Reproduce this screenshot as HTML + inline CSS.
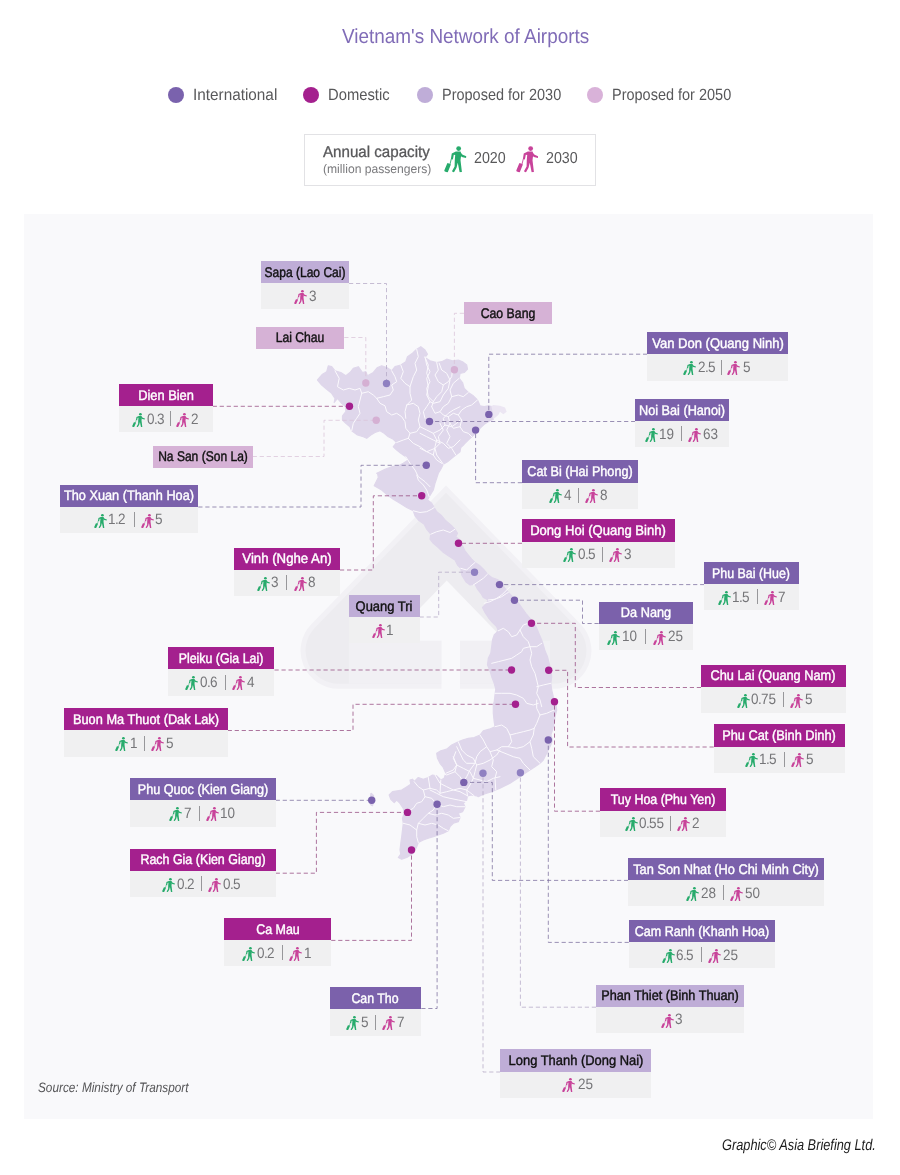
<!DOCTYPE html>
<html lang="en"><head><meta charset="utf-8"><title>Vietnam's Network of Airports</title>
<style>
html,body{margin:0;padding:0;background:#fff}
body{width:900px;height:1175px;position:relative;overflow:hidden;font-family:"Liberation Sans",sans-serif;color:#58585a;text-rendering:geometricPrecision}
.abs{position:absolute}
.t{position:absolute;white-space:nowrap;transform-origin:0 0;line-height:1}
#panel{position:absolute;left:24px;top:214px;width:849.3px;height:904.8px;background:#f9f9fb}
#ov{position:absolute;left:0;top:0}
.lb{position:absolute}
.lb .h{height:22.3px;line-height:22.3px;text-align:center;font-size:14.0px;white-space:nowrap;position:relative}
.lb .h span{position:absolute;left:50%;top:-.45px;display:block;transform-origin:0 50%;-webkit-text-stroke:.42px currentColor}
.lb .v{height:26.1px;background:#f0f0f1;position:relative;font-size:15.0px;color:#757578;white-space:nowrap;line-height:26.1px}
.lb .v .n{position:absolute;top:.4px;display:block;font-weight:normal;transform:scaleX(.9);transform-origin:0 50%}
.lb .v .n u{text-decoration:none;margin:0 -.7px}
.lb .v i{position:absolute;top:5.2px;width:1px;height:15px;background:#97979a}
.ic{display:block;fill:currentColor}
.lb .ic{position:absolute;top:6.7px}
.g{color:#27ab6c}.p{color:#c8439a}
</style></head><body>
<svg width="0" height="0" style="position:absolute"><symbol id="pax" viewBox="186 148 512 600">
<circle cx="518" cy="205" r="54"/>
<path d="M455 272 L562 272 L578 330 L560 470 L592 735 L540 742 L498 530 L470 640 L410 748 L366 718 L426 610 L430 470 L440 350 L408 348 L388 452 L342 440 L362 318 Z"/>
<path d="M560 296 L608 345 L694 382 L686 418 L590 398 L548 350 Z"/>
<path d="M352 440 L322 560" stroke-width="20" fill="none" stroke="currentColor" stroke-linecap="round"/>
<rect x="-44" y="-102" width="88" height="204" rx="20" transform="translate(266 640) rotate(22)"/>
</symbol></svg>
<div id="panel"></div>
<div class="t" id="title" style="left:341.8px;top:26.67px;font-size:20.39px;color:#806cb7;transform:scaleX(0.9285);">Vietnam's Network of Airports</div>
<div class="t" id="lg1" style="left:192.7px;top:87.24px;font-size:16.20px;color:#58585a;transform:scaleX(0.9460);">International</div>
<div class="t" id="lg2" style="left:327.7px;top:87.24px;font-size:16.20px;color:#58585a;transform:scaleX(0.9130);">Domestic</div>
<div class="t" id="lg3" style="left:441.6px;top:87.24px;font-size:16.20px;color:#58585a;transform:scaleX(0.8949);">Proposed for 2030</div>
<div class="t" id="lg4" style="left:612.4px;top:87.24px;font-size:16.20px;color:#58585a;transform:scaleX(0.8949);">Proposed for 2050</div>
<div class="t" id="cap1" style="left:323.2px;top:144.59px;font-size:15.78px;color:#58585a;transform:scaleX(0.9595);-webkit-text-stroke:.3px #58585a;">Annual capacity</div>
<div class="t" id="cap2" style="left:322.8px;top:162.88px;font-size:12.43px;color:#7a7a7d;transform:scaleX(0.9752);">(million passengers)</div>
<div class="t" id="y20" style="left:474.1px;top:151.38px;font-size:15.92px;color:#58585a;transform:scaleX(0.8957);">2020</div>
<div class="t" id="y30" style="left:545.8px;top:151.38px;font-size:15.92px;color:#58585a;transform:scaleX(0.8957);">2030</div>
<div class="t" id="src" style="left:38.4px;top:1080.83px;font-size:13.69px;color:#555557;transform:scaleX(0.8615);font-style:italic;">Source: Ministry of Transport</div>
<div class="t" id="cred" style="left:721.8px;top:1137.72px;font-size:15.50px;color:#1c1c1c;transform:scaleX(0.8242);font-style:italic;">Graphic© Asia Briefing Ltd.</div>
<div class="abs" style="left:168.3px;top:87.3px;width:16px;height:16px;border-radius:50%;background:#7a62ad"></div>
<div class="abs" style="left:303px;top:87.3px;width:16px;height:16px;border-radius:50%;background:#a4208e"></div>
<div class="abs" style="left:416.6px;top:87.3px;width:16px;height:16px;border-radius:50%;background:#bfadd8"></div>
<div class="abs" style="left:587.2px;top:87.3px;width:16px;height:16px;border-radius:50%;background:#d9b2d9"></div>
<div class="abs" style="left:303.5px;top:134.3px;width:292.5px;height:51.3px;border:1px solid #e2e2e5;box-sizing:border-box"></div>
<div class="abs g" style="left:444.2px;top:146.4px"><svg class="ic" width="22.6" height="26.5"><use href="#pax"/></svg></div>
<div class="abs p" style="left:515.8px;top:146.4px"><svg class="ic" width="22.6" height="26.5"><use href="#pax"/></svg></div>
<svg id="ov" width="900" height="1175" viewBox="0 0 900 1175">
<path d="M446.0 485.5 L311.3 624.2 A38.0 38.0 0 0 0 338.6 688.7 L553.4 688.7 A38.0 38.0 0 0 0 580.7 624.2 Z" fill="#f2f1f5"/>
<path d="M446.0 492.6779175252994 L314.9 627.7 A33.0 33.0 0 0 0 338.6 683.7 L553.4 683.7 A33.0 33.0 0 0 0 577.1 627.7 Z" fill="#edecf0"/>
<rect x="348.9" y="640.7" width="92.6" height="43.0" fill="#f1f0f4"/>
<rect x="460" y="640.7" width="90" height="43.0" fill="#f1f0f4"/>
<path d="M446.7 580.5 L388.3 640.7 L441.5 640.7 L441.5 689.2 L460 689.2 L460 640.7 L505.1 640.7 Z" fill="#f9f9fb"/>
<g id="vn"><path d="M317.5 380.0 L322.5 374.2 L326.7 371.7 L328.3 365.8 L331.7 366.7 L335.0 370.8 L340.8 372.5 L345.8 375.8 L350.0 372.5 L353.3 368.3 L358.3 366.7 L362.5 372.5 L365.8 371.7 L367.5 375.8 L373.3 372.5 L377.5 367.5 L381.7 365.8 L386.7 367.5 L391.7 370.8 L395.0 366.7 L400.8 365.0 L405.8 361.7 L407.5 356.7 L412.5 353.3 L416.7 349.2 L420.8 346.7 L425.0 350.0 L427.5 354.2 L425.0 357.5 L430.0 360.8 L436.7 362.5 L441.7 361.7 L446.7 359.2 L452.5 360.8 L458.3 360.0 L462.5 361.7 L466.7 365.0 L467.5 369.2 L464.2 372.5 L460.0 373.3 L459.2 378.3 L462.5 382.5 L464.2 388.3 L468.3 392.5 L473.3 395.8 L477.5 400.0 L480.0 405.8 L484.2 406.7 L488.3 405.8 L492.0 406.7 L493.3 412.0 L493.3 419.2 L488.3 421.7 L484.2 424.2 L480.0 428.3 L475.8 433.3 L471.7 436.7 L468.3 440.0 L464.2 444.2 L460.8 447.5 L460.0 451.7 L455.8 455.0 L451.7 458.3 L447.5 461.7 L443.3 464.2 L440.8 469.2 L438.3 473.3 L436.7 478.3 L435.0 483.3 L433.3 490.0 L429.2 496.7 L427.5 500.0 L431.7 503.3 L434.2 507.5 L436.7 511.7 L441.7 515.8 L445.8 520.8 L450.8 525.0 L455.0 529.2 L457.5 533.3 L455.8 536.7 L460.0 540.0 L462.5 545.8 L465.0 550.8 L468.3 555.0 L471.7 559.2 L475.0 562.5 L480.0 565.8 L484.2 570.0 L487.5 574.2 L491.7 577.5 L496.7 579.2 L501.7 581.7 L504.2 587.5 L508.3 592.5 L513.3 597.5 L517.5 601.7 L521.7 607.5 L525.8 613.3 L530.0 618.3 L534.2 623.3 L536.7 628.3 L539.2 634.2 L541.7 640.0 L543.3 645.0 L545.0 650.8 L547.5 656.7 L549.2 663.3 L550.8 670.0 L551.7 676.7 L550.8 683.3 L551.7 690.0 L553.3 696.7 L555.8 703.3 L556.7 710.0 L556.7 710.0 L555.0 716.7 L554.2 723.3 L552.5 730.0 L550.8 735.0 L552.5 740.0 L550.8 745.0 L548.3 750.0 L545.8 755.0 L543.3 760.0 L540.0 763.3 L535.0 766.7 L530.0 770.0 L525.0 773.3 L520.0 776.7 L515.0 780.0 L510.0 783.3 L505.0 785.8 L500.0 788.3 L495.8 790.0 L491.7 791.7 L486.7 793.3 L481.7 795.0 L478.3 796.7 L476.7 795.8 L471.7 795.0 L467.5 795.8 L466.7 800.0 L463.3 803.3 L465.0 806.7 L462.5 811.7 L458.3 813.3 L460.0 817.5 L458.3 821.7 L453.3 823.3 L450.0 826.7 L448.3 830.8 L443.3 833.3 L438.3 835.0 L433.3 836.7 L428.3 838.3 L423.3 840.0 L418.3 842.5 L416.7 846.7 L414.2 851.7 L410.8 855.0 L406.7 857.5 L401.7 859.2 L398.3 857.5 L400.8 854.2 L400.0 850.0 L400.8 843.3 L401.7 836.7 L402.5 830.0 L403.3 823.3 L402.5 818.3 L404.2 813.3 L403.3 808.3 L400.0 803.3 L396.7 800.0 L394.2 802.5 L390.8 799.2 L389.2 795.0 L392.5 791.7 L397.5 790.8 L401.7 790.0 L405.8 787.5 L410.8 784.2 L410.0 780.0 L412.5 779.2 L414.2 781.7 L418.3 777.5 L423.3 779.2 L428.3 777.5 L432.5 775.0 L436.7 775.8 L440.8 780.0 L444.2 778.3 L445.8 773.3 L443.3 767.5 L440.0 763.3 L437.5 758.3 L436.7 753.3 L440.8 750.8 L446.7 749.2 L451.7 745.0 L458.3 741.7 L462.5 740.0 L468.3 738.3 L474.2 737.5 L480.0 735.0 L483.3 730.8 L489.2 729.2 L495.0 726.7 L494.2 721.7 L493.3 713.3 L493.3 705.0 L494.2 701.7 L495.0 695.0 L495.8 689.2 L494.2 683.3 L491.7 676.7 L490.0 670.8 L487.5 665.0 L488.3 658.3 L490.8 653.3 L491.7 646.7 L492.5 640.0 L494.2 635.0 L498.3 630.8 L496.7 626.7 L492.5 622.5 L488.3 617.5 L485.0 612.5 L482.5 607.5 L485.8 604.2 L488.3 600.0 L483.3 597.5 L480.8 593.3 L477.5 589.2 L475.0 584.2 L470.0 585.0 L465.8 581.7 L461.7 575.0 L460.8 568.3 L457.5 565.0 L455.0 560.0 L448.3 555.8 L442.5 551.7 L438.3 547.5 L433.3 543.3 L430.0 539.2 L430.8 534.2 L426.7 529.2 L424.2 524.2 L418.3 520.0 L415.0 515.8 L413.3 510.8 L406.7 507.5 L400.0 503.3 L393.3 499.2 L387.5 495.0 L381.7 490.0 L374.2 485.8 L378.3 477.5 L377.5 473.3 L376.7 473.3 L380.0 471.7 L385.0 469.2 L391.7 466.7 L398.3 465.8 L403.3 463.3 L408.3 460.0 L405.8 456.7 L400.8 453.3 L396.7 450.0 L393.3 446.7 L396.7 442.5 L393.3 439.2 L388.3 436.7 L384.2 433.3 L380.0 430.8 L375.0 432.5 L370.8 435.0 L366.7 438.3 L363.3 436.7 L357.5 435.0 L351.7 430.8 L350.0 426.7 L345.8 423.3 L342.5 420.0 L342.5 415.8 L345.8 411.7 L345.8 406.7 L341.7 403.3 L337.5 398.3 L334.2 402.5 L335.0 398.3 L331.7 393.3 L326.7 389.2 L321.7 385.0Z" fill="#dfd7eb" stroke="#dfd7eb" stroke-width="1.2" stroke-linejoin="round"/>
<path d="M371 793 L373.5 795 L374 801 L372.5 806 L370.5 805 L370 799 Z" fill="#dfd7eb" stroke="#dfd7eb" stroke-width="1" stroke-linejoin="round"/>
<path d="M491.3 406.3 L493.3 405.0 L500.0 405.8 L505.0 407.5 L506.7 411.7 L503.3 414.2 L500.0 411.7 L498.3 415.0 L493.3 419.2 L493.0 413.3Z" fill="#ece6f3"/>
<g fill="none" stroke="#fbf9fd" stroke-width="1" stroke-linejoin="round" stroke-linecap="round">
<path d="M335.0 370.8 L339.2 378.3 L337.5 386.7 L343.3 390.0 L349.2 388.3 L355.0 390.0 L360.0 388.3 L361.7 393.3 L360.0 400.0 L358.3 406.7 L360.0 413.3 L356.7 418.3 L353.3 423.3 L351.7 430.8"/>
<path d="M361.7 393.3 L368.3 391.7 L373.3 395.0 L376.7 398.3 L383.3 396.7 L390.0 395.0 L393.3 390.0 L391.7 385.0 L396.7 381.7 L395.0 376.7 L391.7 370.8"/>
<path d="M376.7 398.3 L380.0 403.3 L385.0 405.8 L386.7 411.7 L391.7 415.0 L396.7 413.3 L401.7 416.7 L405.0 421.7 L405.8 428.3 L410.0 433.3 L408.3 438.3 L403.3 440.0 L396.7 442.5"/>
<path d="M400.8 365.0 L403.3 371.7 L400.8 378.3 L405.0 383.3 L410.0 386.7 L410.0 393.3 L411.7 400.0 L406.7 405.0 L405.0 411.7 L405.8 418.3"/>
<path d="M416.7 349.2 L418.3 356.7 L415.0 363.3 L416.7 370.0 L413.3 376.7 L410.0 386.7"/>
<path d="M425.0 356.7 L426.7 365.0 L430.0 371.7 L426.7 378.3 L428.3 386.7 L426.7 395.0 L430.0 401.7 L426.7 406.7 L423.3 411.7 L425.0 418.3"/>
<path d="M406.7 405.0 L413.3 403.3 L418.3 406.7 L420.0 413.3 L418.3 420.0 L420.0 426.7 L416.7 431.7 L410.0 433.3"/>
<path d="M439.2 363.3 L441.7 370.0 L446.7 373.3 L450.0 380.0 L448.3 388.3 L443.3 395.0 L440.0 401.7 L433.3 403.3 L430.0 401.7"/>
<path d="M420.0 426.7 L426.7 430.0 L433.3 433.3 L436.7 440.0 L443.3 443.3 L448.3 448.3 L453.3 446.7 L460.0 440.0"/>
<path d="M408.3 438.3 L413.3 443.3 L420.0 446.7 L426.7 451.7 L433.3 455.0 L436.7 460.0 L441.7 463.3"/>
<path d="M433.3 433.3 L440.0 430.0 L445.0 425.0 L451.7 426.7 L456.7 423.3 L460.0 420.0"/>
<path d="M436.7 440.0 L435.0 446.7 L433.3 455.0"/>
<path d="M445.0 425.0 L443.3 418.3 L448.3 413.3 L453.3 410.0 L460.0 406.7"/>
<path d="M405.8 456.7 L410.0 463.3 L415.0 470.0 L418.3 476.7 L425.0 481.7 L430.0 486.7"/>
<path d="M425.0 357.5 L428.3 365.0 L426.7 373.3 L430.0 381.7 L426.7 388.3 L428.3 396.7 L433.3 401.7 L431.7 406.7"/>
<path d="M436.7 362.5 L438.3 370.0 L435.0 375.0 L438.3 381.7 L443.3 385.0 L448.3 381.7 L451.7 376.7 L452.5 370.0"/>
<path d="M443.3 385.0 L441.7 391.7 L436.7 396.7 L433.3 401.7"/>
<path d="M459.2 378.3 L453.3 383.3 L450.0 390.0 L451.7 396.7 L448.3 403.3 L443.3 406.7 L440.0 411.7 L435.0 413.3 L431.7 406.7"/>
<path d="M468.3 392.5 L463.3 396.7 L458.3 395.0 L451.7 396.7"/>
<path d="M477.5 400.0 L471.7 405.0 L466.7 406.7 L461.7 410.0 L458.3 415.0 L453.3 413.3 L448.3 416.7 L443.3 415.0 L440.0 411.7"/>
<path d="M458.3 415.0 L461.7 420.0 L460.0 426.7 L463.3 431.7 L468.3 433.3 L471.7 436.7"/>
<path d="M448.3 416.7 L450.0 423.3 L446.7 430.0 L450.0 436.7 L446.7 443.3 L451.7 448.3 L455.8 455.0"/>
<path d="M440.0 423.3 L443.3 430.0 L438.3 436.7 L440.0 443.3 L435.0 448.3 L436.7 455.0 L443.3 464.2"/>
<path d="M460.0 426.7 L453.3 428.3 L450.0 423.3"/>
<path d="M420.0 433.3 L426.7 436.7 L433.3 440.0 L440.0 443.3"/>
<path d="M420.0 448.3 L426.7 451.7 L435.0 448.3"/>
<path d="M413.3 510.8 L420.0 512.5 L426.7 511.7 L431.7 509.2 L434.2 507.5"/>
<path d="M430.8 534.2 L436.7 531.7 L443.3 530.0 L450.0 532.5 L455.0 529.2"/>
<path d="M460.8 568.3 L466.7 570.0 L470.0 566.7 L475.0 562.5"/>
<path d="M473.3 585.0 L478.3 581.7 L483.3 578.3 L487.5 574.2"/>
<path d="M484.2 603.3 L490.0 601.7 L496.7 598.3 L501.7 595.0 L506.7 590.0 L510.0 586.7"/>
<path d="M416.7 475.0 L418.3 480.0 L423.3 485.0 L426.7 490.0 L429.2 496.7"/>
<path d="M488.3 600.0 L495.0 599.2 L501.7 596.7 L506.7 593.3 L508.3 592.5"/>
<path d="M498.3 630.8 L503.3 628.3 L508.3 631.7 L511.7 636.7 L516.7 635.0 L520.0 630.0 L523.3 625.0 L528.3 623.3 L534.2 623.3"/>
<path d="M520.0 630.0 L523.3 636.7 L528.3 641.7 L530.0 646.7 L536.7 646.7 L541.7 643.3"/>
<path d="M491.7 663.3 L498.3 661.7 L505.0 660.0 L511.7 658.3 L516.7 655.0 L521.7 651.7 L523.3 648.3 L530.0 646.7"/>
<path d="M530.0 646.7 L531.7 653.3 L530.0 660.0 L531.7 666.7 L535.0 673.3 L536.7 680.0 L538.3 686.7 L536.7 693.3 L540.0 700.0 L541.7 706.7"/>
<path d="M536.7 686.7 L543.3 685.0 L550.8 683.3"/>
<path d="M495.0 693.3 L501.7 693.3 L510.0 693.3 L516.7 695.0 L523.3 698.3 L526.7 703.3 L533.3 705.0 L538.3 703.3"/>
<path d="M536.7 700.0 L536.7 708.3 L540.0 715.0 L546.7 713.3 L554.2 710.0"/>
<path d="M495.0 726.7 L501.7 725.0 L506.7 728.3 L510.0 735.0 L516.7 733.3 L523.3 731.7 L530.0 730.0 L534.2 728.3 L536.7 723.3 L540.0 715.0"/>
<path d="M534.2 728.3 L533.3 735.0 L530.0 741.7 L531.7 748.3 L533.3 756.7 L540.0 763.3"/>
<path d="M510.0 735.0 L511.7 741.7 L508.3 746.7 L501.7 746.7 L496.7 750.0 L490.0 751.7 L486.7 746.7 L483.3 740.0 L480.0 735.0"/>
<path d="M486.7 746.7 L480.0 751.7 L476.7 756.7 L475.0 763.3 L470.0 770.0 L466.7 776.7 L463.3 781.7"/>
<path d="M456.7 746.7 L463.3 760.0 L466.7 763.3 L475.0 763.3"/>
<path d="M490.0 751.7 L493.3 760.0 L491.7 766.7 L496.7 771.7 L495.0 778.3 L495.8 790.0"/>
<path d="M496.7 750.0 L505.0 753.3 L513.3 756.7 L520.0 758.3 L523.3 763.3 L530.0 770.0"/>
<path d="M508.3 746.7 L516.7 748.3 L523.3 746.7 L530.0 741.7"/>
<path d="M455.8 751.7 L453.3 758.3 L456.7 765.0 L455.0 771.7 L460.0 776.7 L463.3 781.7"/>
<path d="M439.2 771.7 L446.7 775.0 L455.0 771.7"/>
<path d="M435.0 775.0 L440.0 783.3 L446.7 786.7 L453.3 790.0 L460.0 788.3 L466.7 790.0 L474.2 795.8"/>
<path d="M430.0 790.0 L436.7 793.3 L443.3 796.7 L450.0 798.3 L458.3 800.0 L466.7 801.7"/>
<path d="M414.2 781.7 L418.3 786.7 L423.3 790.0 L425.0 796.7 L421.7 801.7 L416.7 803.3 L413.3 808.3 L404.2 813.3"/>
<path d="M423.3 790.0 L430.0 788.3 L436.7 790.0 L440.0 793.3 L446.7 791.7 L453.3 790.0 L460.0 791.7 L467.5 795.8"/>
<path d="M425.0 796.7 L431.7 798.3 L436.7 804.2 L443.3 806.7 L450.0 805.0 L456.7 806.7 L465.0 806.7"/>
<path d="M436.7 804.2 L433.3 810.0 L428.3 813.3 L423.3 818.3 L418.3 823.3 L416.7 830.0 L416.7 836.7 L418.3 842.5"/>
<path d="M428.3 813.3 L435.0 815.0 L441.7 813.3 L448.3 815.0 L453.3 818.3 L460.0 817.5"/>
<path d="M418.3 823.3 L425.0 825.0 L431.7 823.3 L438.3 825.0 L443.3 828.3 L448.3 830.8"/>
<path d="M403.3 823.3 L410.0 825.0 L416.7 830.0"/>
<path d="M440.0 793.3 L440.8 780.0"/>
<path d="M428.3 777.5 L430.0 788.3"/>
<path d="M453.3 756.7 L456.7 765.0 L463.3 768.3 L470.0 771.7 L473.3 778.3 L470.0 785.0 L466.7 790.0 L467.5 795.8"/>
<path d="M456.7 765.0 L453.3 770.0 L445.8 773.3"/>
<path d="M473.3 778.3 L480.0 780.0 L486.7 781.7 L493.3 778.3 L500.0 776.7"/>
<path d="M458.3 741.7 L461.7 750.0 L466.7 755.0 L473.3 758.3 L476.7 765.0 L483.3 763.3 L490.0 760.0 L496.7 755.0 L500.0 750.0"/>
<path d="M476.7 765.0 L475.0 771.7 L473.3 778.3"/>
</g></g>
<path d="M349 283.5 L386.5 283.5 L386.5 383.5" fill="none" stroke="#b4a8c6" stroke-width="0.75" stroke-dasharray="4.2 2.8"/>
<path d="M344.3 337.5 L365.8 337.5 L365.8 383" fill="none" stroke="#d9c3d8" stroke-width="0.75" stroke-dasharray="4.2 2.8"/>
<path d="M464 313.3 L454.4 313.3 L454.4 369.8" fill="none" stroke="#d9c3d8" stroke-width="0.75" stroke-dasharray="4.2 2.8"/>
<path d="M212.7 406.3 L349.5 406.3" fill="none" stroke="#93487f" stroke-width="0.75" stroke-dasharray="4.2 2.8"/>
<path d="M252.7 456.5 L324 456.5 L324 420.3 L376.2 420.3" fill="none" stroke="#d9c3d8" stroke-width="0.75" stroke-dasharray="4.2 2.8"/>
<path d="M647.2 354.2 L488.8 354.2 L488.8 414.4" fill="none" stroke="#7a6c9c" stroke-width="0.75" stroke-dasharray="4.2 2.8"/>
<path d="M635.3 421.5 L429.5 421.5" fill="none" stroke="#7a6c9c" stroke-width="0.75" stroke-dasharray="4.2 2.8"/>
<path d="M522 482.7 L475.6 482.7 L475.6 430.1" fill="none" stroke="#7a6c9c" stroke-width="0.75" stroke-dasharray="4.2 2.8"/>
<path d="M198.3 507 L361 507 L361 465.3 L426.3 465.3" fill="none" stroke="#7a6c9c" stroke-width="0.75" stroke-dasharray="4.2 2.8"/>
<path d="M340 570 L373.3 570 L373.3 495.8 L421.7 495.8" fill="none" stroke="#93487f" stroke-width="0.75" stroke-dasharray="4.2 2.8"/>
<path d="M522 543.3 L458.5 543.3" fill="none" stroke="#93487f" stroke-width="0.75" stroke-dasharray="4.2 2.8"/>
<path d="M419.6 617 L438.7 617 L438.7 572.2 L474.5 572.2" fill="none" stroke="#b4a8c6" stroke-width="0.75" stroke-dasharray="4.2 2.8"/>
<path d="M704.3 584.6 L499.5 584.6" fill="none" stroke="#7a6c9c" stroke-width="0.75" stroke-dasharray="4.2 2.8"/>
<path d="M598.7 623.5 L582.5 623.5 L582.5 600.2 L514.5 600.2" fill="none" stroke="#7a6c9c" stroke-width="0.75" stroke-dasharray="4.2 2.8"/>
<path d="M701 687.5 L575.3 687.5 L575.3 623.3 L531.5 623.3" fill="none" stroke="#93487f" stroke-width="0.75" stroke-dasharray="4.2 2.8"/>
<path d="M274.5 670 L511.5 670" fill="none" stroke="#93487f" stroke-width="0.75" stroke-dasharray="4.2 2.8"/>
<path d="M227.7 730.5 L353 730.5 L353 704.3 L515.5 704.3" fill="none" stroke="#93487f" stroke-width="0.75" stroke-dasharray="4.2 2.8"/>
<path d="M713.7 747 L567.6 747 L567.6 670.3 L548.7 670.3" fill="none" stroke="#93487f" stroke-width="0.75" stroke-dasharray="4.2 2.8"/>
<path d="M600 811.2 L554.5 811.2 L554.5 701.8" fill="none" stroke="#93487f" stroke-width="0.75" stroke-dasharray="4.2 2.8"/>
<path d="M275.7 800.3 L371.7 800.3" fill="none" stroke="#7a6c9c" stroke-width="0.75" stroke-dasharray="4.2 2.8"/>
<path d="M275.7 873.2 L316.4 873.2 L316.4 812.4 L407.5 812.4" fill="none" stroke="#93487f" stroke-width="0.75" stroke-dasharray="4.2 2.8"/>
<path d="M331.2 940.4 L411.5 940.4 L411.5 850" fill="none" stroke="#93487f" stroke-width="0.75" stroke-dasharray="4.2 2.8"/>
<path d="M421.3 1008.5 L437.1 1008.5 L437.1 804.2" fill="none" stroke="#7a6c9c" stroke-width="0.75" stroke-dasharray="4.2 2.8"/>
<path d="M628.2 880.4 L492.3 880.4 L492.3 782.4 L463.8 782.4" fill="none" stroke="#7a6c9c" stroke-width="0.75" stroke-dasharray="4.2 2.8"/>
<path d="M628.8 942.4 L548.3 942.4 L548.3 740" fill="none" stroke="#7a6c9c" stroke-width="0.75" stroke-dasharray="4.2 2.8"/>
<path d="M596 1007.2 L520.4 1007.2 L520.4 772.8" fill="none" stroke="#b4a8c6" stroke-width="0.75" stroke-dasharray="4.2 2.8"/>
<path d="M500.4 1072 L483 1072 L483 773.2" fill="none" stroke="#b4a8c6" stroke-width="0.75" stroke-dasharray="4.2 2.8"/>
<circle cx="386.5" cy="383.5" r="3.7" fill="#8f80c1"/>
<circle cx="365.8" cy="383" r="3.7" fill="#d5b0d3"/>
<circle cx="454.4" cy="369.8" r="3.7" fill="#d5b0d3"/>
<circle cx="349.5" cy="406.3" r="3.7" fill="#a4208e"/>
<circle cx="376.2" cy="420.3" r="3.7" fill="#d5b0d3"/>
<circle cx="488.8" cy="414.4" r="3.7" fill="#7a62ad"/>
<circle cx="429.5" cy="421.5" r="3.7" fill="#7a62ad"/>
<circle cx="475.6" cy="430.1" r="3.7" fill="#7a62ad"/>
<circle cx="426.3" cy="465.3" r="3.7" fill="#7a62ad"/>
<circle cx="421.7" cy="495.8" r="3.7" fill="#a4208e"/>
<circle cx="458.5" cy="543.3" r="3.7" fill="#a4208e"/>
<circle cx="474.5" cy="572.2" r="3.7" fill="#8f80c1"/>
<circle cx="499.5" cy="584.6" r="3.7" fill="#7a62ad"/>
<circle cx="514.5" cy="600.2" r="3.7" fill="#7a62ad"/>
<circle cx="531.5" cy="623.3" r="3.7" fill="#a4208e"/>
<circle cx="511.5" cy="670" r="3.7" fill="#a4208e"/>
<circle cx="515.5" cy="704.3" r="3.7" fill="#a4208e"/>
<circle cx="548.7" cy="670.3" r="3.7" fill="#a4208e"/>
<circle cx="554.5" cy="701.8" r="3.7" fill="#a4208e"/>
<circle cx="371.7" cy="800.3" r="3.7" fill="#7a62ad"/>
<circle cx="407.5" cy="812.4" r="3.7" fill="#a4208e"/>
<circle cx="411.5" cy="850" r="3.7" fill="#a4208e"/>
<circle cx="437.1" cy="804.2" r="3.7" fill="#7a62ad"/>
<circle cx="463.8" cy="782.4" r="3.7" fill="#7a62ad"/>
<circle cx="548.3" cy="740" r="3.7" fill="#7a62ad"/>
<circle cx="520.4" cy="772.8" r="3.7" fill="#8f80c1"/>
<circle cx="483" cy="773.2" r="3.7" fill="#8f80c1"/>
</svg>
<div class="lb" style="left:261px;top:261px;width:88px"><div class="h" style="background:#bfadd7;color:#111111"><span style="transform:scaleX(0.8601) translateX(-50%)">Sapa (Lao Cai)</span></div><div class="v"><svg class="ic p" width="13" height="14.2" viewBox="186 148 512 600" preserveAspectRatio="none" style="left:32.90px"><use href="#pax" width="512" height="600" x="186" y="148"/></svg><b class="n" style="left:47.63px">3</b></div></div>
<div class="lb" style="left:255.7px;top:326.7px;width:88.6px"><div class="h" style="background:#d6b2d6;color:#111111"><span style="transform:scaleX(0.8689) translateX(-50%)">Lai Chau</span></div></div>
<div class="lb" style="left:464px;top:302px;width:88.3px"><div class="h" style="background:#d6b2d6;color:#111111"><span style="transform:scaleX(0.8783) translateX(-50%)">Cao Bang</span></div></div>
<div class="lb" style="left:118.7px;top:384px;width:94.0px"><div class="h" style="background:#a4208e;color:#ffffff"><span style="transform:scaleX(0.9176) translateX(-50%)">Dien Bien</span></div><div class="v"><svg class="ic g" width="13" height="14.2" viewBox="186 148 512 600" preserveAspectRatio="none" style="left:13.60px"><use href="#pax" width="512" height="600" x="186" y="148"/></svg><b class="n" style="left:28.34px">0<u>.</u>3</b><i style="left:51.50px"></i><svg class="ic p" width="13" height="14.2" viewBox="186 148 512 600" preserveAspectRatio="none" style="left:57.60px"><use href="#pax" width="512" height="600" x="186" y="148"/></svg><b class="n" style="left:72.51px">2</b></div></div>
<div class="lb" style="left:153.3px;top:445.7px;width:99.4px"><div class="h" style="background:#d6b2d6;color:#111111"><span style="transform:scaleX(0.8600) translateX(-50%)">Na San (Son La)</span></div></div>
<div class="lb" style="left:647.2px;top:332.2px;width:140.8px"><div class="h" style="background:#7b61ab;color:#ffffff"><span style="transform:scaleX(0.9302) translateX(-50%)">Van Don (Quang Ninh)</span></div><div class="v"><svg class="ic g" width="13" height="14.2" viewBox="186 148 512 600" preserveAspectRatio="none" style="left:36.00px"><use href="#pax" width="512" height="600" x="186" y="148"/></svg><b class="n" style="left:51.01px">2<u>.</u>5</b><i style="left:73.90px"></i><svg class="ic p" width="13" height="14.2" viewBox="186 148 512 600" preserveAspectRatio="none" style="left:79.50px"><use href="#pax" width="512" height="600" x="186" y="148"/></svg><b class="n" style="left:95.34px">5</b></div></div>
<div class="lb" style="left:635.3px;top:399px;width:94.0px"><div class="h" style="background:#7b61ab;color:#ffffff"><span style="transform:scaleX(0.9059) translateX(-50%)">Noi Bai (Hanoi)</span></div><div class="v"><svg class="ic g" width="13" height="14.2" viewBox="186 148 512 600" preserveAspectRatio="none" style="left:9.30px"><use href="#pax" width="512" height="600" x="186" y="148"/></svg><b class="n" style="left:23.83px">19</b><i style="left:45.50px"></i><svg class="ic p" width="13" height="14.2" viewBox="186 148 512 600" preserveAspectRatio="none" style="left:53.00px"><use href="#pax" width="512" height="600" x="186" y="148"/></svg><b class="n" style="left:67.39px">63</b></div></div>
<div class="lb" style="left:522px;top:460.3px;width:115.7px"><div class="h" style="background:#7b61ab;color:#ffffff"><span style="transform:scaleX(0.9022) translateX(-50%)">Cat Bi (Hai Phong)</span></div><div class="v"><svg class="ic g" width="13" height="14.2" viewBox="186 148 512 600" preserveAspectRatio="none" style="left:26.90px"><use href="#pax" width="512" height="600" x="186" y="148"/></svg><b class="n" style="left:41.72px">4</b><i style="left:55.80px"></i><svg class="ic p" width="13" height="14.2" viewBox="186 148 512 600" preserveAspectRatio="none" style="left:62.90px"><use href="#pax" width="512" height="600" x="186" y="148"/></svg><b class="n" style="left:77.69px">8</b></div></div>
<div class="lb" style="left:60px;top:484.7px;width:138.3px"><div class="h" style="background:#7b61ab;color:#ffffff"><span style="transform:scaleX(0.9078) translateX(-50%)">Tho Xuan (Thanh Hoa)</span></div><div class="v"><svg class="ic g" width="13" height="14.2" viewBox="186 148 512 600" preserveAspectRatio="none" style="left:33.90px"><use href="#pax" width="512" height="600" x="186" y="148"/></svg><b class="n" style="left:48.43px">1<u>.</u>2</b><i style="left:73.50px"></i><svg class="ic p" width="13" height="14.2" viewBox="186 148 512 600" preserveAspectRatio="none" style="left:80.60px"><use href="#pax" width="512" height="600" x="186" y="148"/></svg><b class="n" style="left:95.44px">5</b></div></div>
<div class="lb" style="left:233.7px;top:547.7px;width:106.3px"><div class="h" style="background:#a4208e;color:#ffffff"><span style="transform:scaleX(0.9429) translateX(-50%)">Vinh (Nghe An)</span></div><div class="v"><svg class="ic g" width="13" height="14.2" viewBox="186 148 512 600" preserveAspectRatio="none" style="left:23.00px"><use href="#pax" width="512" height="600" x="186" y="148"/></svg><b class="n" style="left:37.03px">3</b><i style="left:52.40px"></i><svg class="ic p" width="13" height="14.2" viewBox="186 148 512 600" preserveAspectRatio="none" style="left:59.90px"><use href="#pax" width="512" height="600" x="186" y="148"/></svg><b class="n" style="left:74.79px">8</b></div></div>
<div class="lb" style="left:522px;top:519.3px;width:152.7px"><div class="h" style="background:#a4208e;color:#ffffff"><span style="transform:scaleX(0.9324) translateX(-50%)">Dong Hoi (Quang Binh)</span></div><div class="v"><svg class="ic g" width="13" height="14.2" viewBox="186 148 512 600" preserveAspectRatio="none" style="left:40.90px"><use href="#pax" width="512" height="600" x="186" y="148"/></svg><b class="n" style="left:55.64px">0<u>.</u>5</b><i style="left:79.80px"></i><svg class="ic p" width="13" height="14.2" viewBox="186 148 512 600" preserveAspectRatio="none" style="left:86.90px"><use href="#pax" width="512" height="600" x="186" y="148"/></svg><b class="n" style="left:102.03px">3</b></div></div>
<div class="lb" style="left:348.6px;top:595px;width:71.0px"><div class="h" style="background:#bfadd7;color:#111111"><span style="transform:scaleX(0.9238) translateX(-50%)">Quang Tri</span></div><div class="v"><svg class="ic p" width="13" height="14.2" viewBox="186 148 512 600" preserveAspectRatio="none" style="left:23.00px"><use href="#pax" width="512" height="600" x="186" y="148"/></svg><b class="n" style="left:37.83px">1</b></div></div>
<div class="lb" style="left:704.3px;top:562px;width:94.4px"><div class="h" style="background:#7b61ab;color:#ffffff"><span style="transform:scaleX(0.8870) translateX(-50%)">Phu Bai (Hue)</span></div><div class="v"><svg class="ic g" width="13" height="14.2" viewBox="186 148 512 600" preserveAspectRatio="none" style="left:13.60px"><use href="#pax" width="512" height="600" x="186" y="148"/></svg><b class="n" style="left:28.13px">1<u>.</u>5</b><i style="left:52.50px"></i><svg class="ic p" width="13" height="14.2" viewBox="186 148 512 600" preserveAspectRatio="none" style="left:59.60px"><use href="#pax" width="512" height="600" x="186" y="148"/></svg><b class="n" style="left:74.03px">7</b></div></div>
<div class="lb" style="left:598.7px;top:601.7px;width:94.0px"><div class="h" style="background:#7b61ab;color:#ffffff"><span style="transform:scaleX(0.9101) translateX(-50%)">Da Nang</span></div><div class="v"><svg class="ic g" width="13" height="14.2" viewBox="186 148 512 600" preserveAspectRatio="none" style="left:8.60px"><use href="#pax" width="512" height="600" x="186" y="148"/></svg><b class="n" style="left:23.43px">10</b><i style="left:46.80px"></i><svg class="ic p" width="13" height="14.2" viewBox="186 148 512 600" preserveAspectRatio="none" style="left:54.60px"><use href="#pax" width="512" height="600" x="186" y="148"/></svg><b class="n" style="left:69.51px">25</b></div></div>
<div class="lb" style="left:701px;top:664.7px;width:144.7px"><div class="h" style="background:#a4208e;color:#ffffff"><span style="transform:scaleX(0.9127) translateX(-50%)">Chu Lai (Quang Nam)</span></div><div class="v"><svg class="ic g" width="13" height="14.2" viewBox="186 148 512 600" preserveAspectRatio="none" style="left:35.60px"><use href="#pax" width="512" height="600" x="186" y="148"/></svg><b class="n" style="left:50.34px">0<u>.</u>75</b><i style="left:82.00px"></i><svg class="ic p" width="13" height="14.2" viewBox="186 148 512 600" preserveAspectRatio="none" style="left:89.10px"><use href="#pax" width="512" height="600" x="186" y="148"/></svg><b class="n" style="left:103.94px">5</b></div></div>
<div class="lb" style="left:167.9px;top:647.2px;width:106.6px"><div class="h" style="background:#a4208e;color:#ffffff"><span style="transform:scaleX(0.8829) translateX(-50%)">Pleiku (Gia Lai)</span></div><div class="v"><svg class="ic g" width="13" height="14.2" viewBox="186 148 512 600" preserveAspectRatio="none" style="left:16.90px"><use href="#pax" width="512" height="600" x="186" y="148"/></svg><b class="n" style="left:31.84px">0<u>.</u>6</b><i style="left:57.10px"></i><svg class="ic p" width="13" height="14.2" viewBox="186 148 512 600" preserveAspectRatio="none" style="left:64.60px"><use href="#pax" width="512" height="600" x="186" y="148"/></svg><b class="n" style="left:79.42px">4</b></div></div>
<div class="lb" style="left:64.3px;top:708.2px;width:163.4px"><div class="h" style="background:#a4208e;color:#ffffff"><span style="transform:scaleX(0.9122) translateX(-50%)">Buon Ma Thuot (Dak Lak)</span></div><div class="v"><svg class="ic g" width="13" height="14.2" viewBox="186 148 512 600" preserveAspectRatio="none" style="left:50.30px"><use href="#pax" width="512" height="600" x="186" y="148"/></svg><b class="n" style="left:65.63px">1</b><i style="left:79.70px"></i><svg class="ic p" width="13" height="14.2" viewBox="186 148 512 600" preserveAspectRatio="none" style="left:87.10px"><use href="#pax" width="512" height="600" x="186" y="148"/></svg><b class="n" style="left:102.14px">5</b></div></div>
<div class="lb" style="left:713.7px;top:724.3px;width:131.3px"><div class="h" style="background:#a4208e;color:#ffffff"><span style="transform:scaleX(0.9131) translateX(-50%)">Phu Cat (Binh Dinh)</span></div><div class="v"><svg class="ic g" width="13" height="14.2" viewBox="186 148 512 600" preserveAspectRatio="none" style="left:31.20px"><use href="#pax" width="512" height="600" x="186" y="148"/></svg><b class="n" style="left:45.73px">1<u>.</u>5</b><i style="left:70.50px"></i><svg class="ic p" width="13" height="14.2" viewBox="186 148 512 600" preserveAspectRatio="none" style="left:77.60px"><use href="#pax" width="512" height="600" x="186" y="148"/></svg><b class="n" style="left:92.44px">5</b></div></div>
<div class="lb" style="left:600px;top:788.4px;width:125.7px"><div class="h" style="background:#a4208e;color:#ffffff"><span style="transform:scaleX(0.8889) translateX(-50%)">Tuy Hoa (Phu Yen)</span></div><div class="v"><svg class="ic g" width="13" height="14.2" viewBox="186 148 512 600" preserveAspectRatio="none" style="left:24.60px"><use href="#pax" width="512" height="600" x="186" y="148"/></svg><b class="n" style="left:39.34px">0<u>.</u>55</b><i style="left:69.80px"></i><svg class="ic p" width="13" height="14.2" viewBox="186 148 512 600" preserveAspectRatio="none" style="left:77.30px"><use href="#pax" width="512" height="600" x="186" y="148"/></svg><b class="n" style="left:92.21px">2</b></div></div>
<div class="lb" style="left:129.6px;top:778.2px;width:146.1px"><div class="h" style="background:#7b61ab;color:#ffffff"><span style="transform:scaleX(0.9022) translateX(-50%)">Phu Quoc (Kien Giang)</span></div><div class="v"><svg class="ic g" width="13" height="14.2" viewBox="186 148 512 600" preserveAspectRatio="none" style="left:39.60px"><use href="#pax" width="512" height="600" x="186" y="148"/></svg><b class="n" style="left:54.53px">7</b><i style="left:69.50px"></i><svg class="ic p" width="13" height="14.2" viewBox="186 148 512 600" preserveAspectRatio="none" style="left:76.40px"><use href="#pax" width="512" height="600" x="186" y="148"/></svg><b class="n" style="left:90.83px">10</b></div></div>
<div class="lb" style="left:129.6px;top:848.9px;width:146.1px"><div class="h" style="background:#a4208e;color:#ffffff"><span style="transform:scaleX(0.8889) translateX(-50%)">Rach Gia (Kien Giang)</span></div><div class="v"><svg class="ic g" width="13" height="14.2" viewBox="186 148 512 600" preserveAspectRatio="none" style="left:32.00px"><use href="#pax" width="512" height="600" x="186" y="148"/></svg><b class="n" style="left:46.94px">0<u>.</u>2</b><i style="left:71.90px"></i><svg class="ic p" width="13" height="14.2" viewBox="186 148 512 600" preserveAspectRatio="none" style="left:78.80px"><use href="#pax" width="512" height="600" x="186" y="148"/></svg><b class="n" style="left:93.34px">0<u>.</u>5</b></div></div>
<div class="lb" style="left:224.4px;top:918px;width:106.8px"><div class="h" style="background:#a4208e;color:#ffffff"><span style="transform:scaleX(0.8892) translateX(-50%)">Ca Mau</span></div><div class="v"><svg class="ic g" width="13" height="14.2" viewBox="186 148 512 600" preserveAspectRatio="none" style="left:17.20px"><use href="#pax" width="512" height="600" x="186" y="148"/></svg><b class="n" style="left:32.14px">0<u>.</u>2</b><i style="left:57.90px"></i><svg class="ic p" width="13" height="14.2" viewBox="186 148 512 600" preserveAspectRatio="none" style="left:64.80px"><use href="#pax" width="512" height="600" x="186" y="148"/></svg><b class="n" style="left:79.23px">1</b></div></div>
<div class="lb" style="left:329.6px;top:987.2px;width:91.7px"><div class="h" style="background:#7b61ab;color:#ffffff"><span style="transform:scaleX(0.8830) translateX(-50%)">Can Tho</span></div><div class="v"><svg class="ic g" width="13" height="14.2" viewBox="186 148 512 600" preserveAspectRatio="none" style="left:16.20px"><use href="#pax" width="512" height="600" x="186" y="148"/></svg><b class="n" style="left:31.64px">5</b><i style="left:45.30px"></i><svg class="ic p" width="13" height="14.2" viewBox="186 148 512 600" preserveAspectRatio="none" style="left:52.80px"><use href="#pax" width="512" height="600" x="186" y="148"/></svg><b class="n" style="left:67.53px">7</b></div></div>
<div class="lb" style="left:628.2px;top:858px;width:195.4px"><div class="h" style="background:#7b61ab;color:#ffffff"><span style="transform:scaleX(0.9139) translateX(-50%)">Tan Son Nhat (Ho Chi Minh City)</span></div><div class="v"><svg class="ic g" width="13" height="14.2" viewBox="186 148 512 600" preserveAspectRatio="none" style="left:58.20px"><use href="#pax" width="512" height="600" x="186" y="148"/></svg><b class="n" style="left:72.91px">28</b><i style="left:95.30px"></i><svg class="ic p" width="13" height="14.2" viewBox="186 148 512 600" preserveAspectRatio="none" style="left:101.80px"><use href="#pax" width="512" height="600" x="186" y="148"/></svg><b class="n" style="left:116.84px">50</b></div></div>
<div class="lb" style="left:628.8px;top:920px;width:146.0px"><div class="h" style="background:#7b61ab;color:#ffffff"><span style="transform:scaleX(0.8949) translateX(-50%)">Cam Ranh (Khanh Hoa)</span></div><div class="v"><svg class="ic g" width="13" height="14.2" viewBox="186 148 512 600" preserveAspectRatio="none" style="left:33.20px"><use href="#pax" width="512" height="600" x="186" y="148"/></svg><b class="n" style="left:47.39px">6<u>.</u>5</b><i style="left:71.90px"></i><svg class="ic p" width="13" height="14.2" viewBox="186 148 512 600" preserveAspectRatio="none" style="left:79.20px"><use href="#pax" width="512" height="600" x="186" y="148"/></svg><b class="n" style="left:94.31px">25</b></div></div>
<div class="lb" style="left:596px;top:984.8px;width:148.4px"><div class="h" style="background:#bfadd7;color:#111111"><span style="transform:scaleX(0.9051) translateX(-50%)">Phan Thiet (Binh Thuan)</span></div><div class="v"><svg class="ic p" width="13" height="14.2" viewBox="186 148 512 600" preserveAspectRatio="none" style="left:64.80px"><use href="#pax" width="512" height="600" x="186" y="148"/></svg><b class="n" style="left:79.33px">3</b></div></div>
<div class="lb" style="left:500.4px;top:1049.3px;width:150.4px"><div class="h" style="background:#bfadd7;color:#111111"><span style="transform:scaleX(0.9229) translateX(-50%)">Long Thanh (Dong Nai)</span></div><div class="v"><svg class="ic p" width="13" height="14.2" viewBox="186 148 512 600" preserveAspectRatio="none" style="left:61.60px"><use href="#pax" width="512" height="600" x="186" y="148"/></svg><b class="n" style="left:77.11px">25</b></div></div>
</body></html>
